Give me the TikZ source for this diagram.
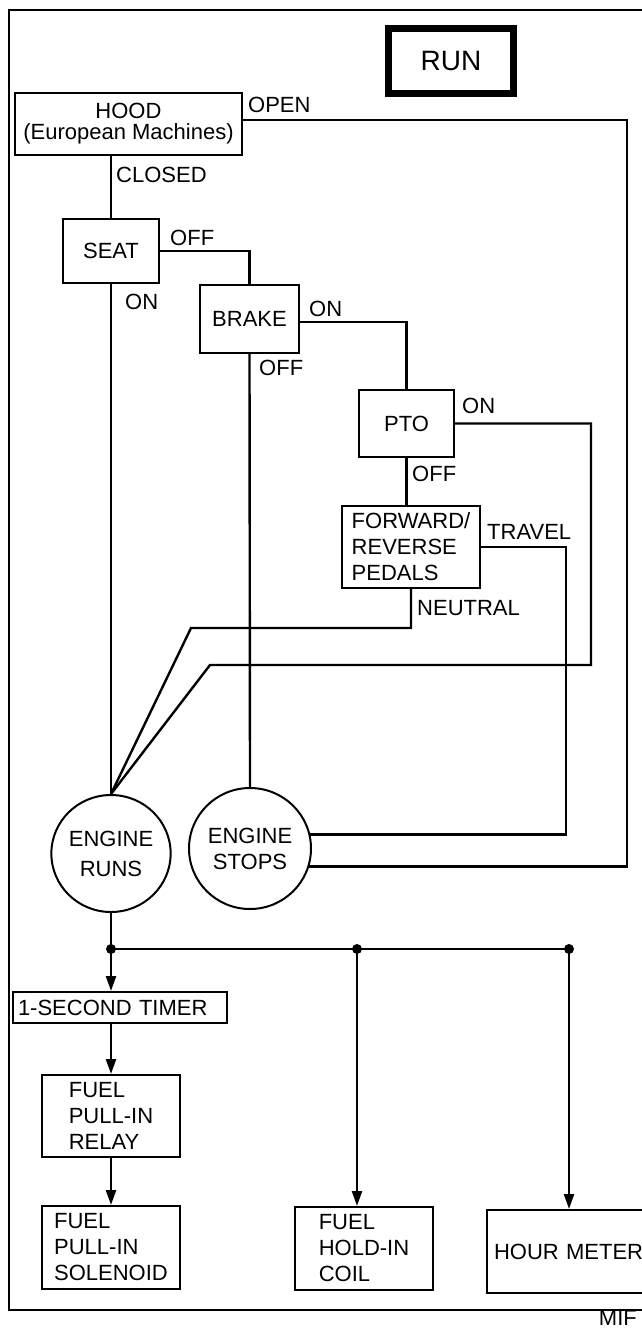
\documentclass[tikz,border=0pt]{standalone}
\usepackage{fontspec}
\setmainfont{Liberation Sans}
\usepackage{tikz}
\usetikzlibrary{positioning, arrows.meta, shapes.geometric}

\begin{document}
\begin{tikzpicture}[x=1pt, y=-1pt,
        every node/.style={font=\fontsize{22}{26}\selectfont},
        box/.style={draw, line width=2pt, inner sep=0pt, align=center},
        lbox/.style={box, align=left},
        engine/.style={draw, ellipse, line width=2pt, inner sep=0pt, align=center},
        lbl/.style={anchor=base west, inner sep=0pt},
        wire/.style={line width=2.4pt},
        feed/.style={wire, -{Triangle[length=15pt, width=10pt]}},
        dot/.style={circle, fill, inner sep=0pt, minimum size=10pt}
    ]
        \useasboundingbox (0,0) rectangle (642,1330);
        \draw[line width=1.5pt] (9,10) rectangle (690,1310);

        % switches
        \node[box, line width=7pt, minimum width=125pt, minimum height=65pt,
              font=\fontsize{28}{28}\selectfont] (run) at (451,61) {RUN};
        \node[box, minimum width=227pt, minimum height=62pt,
              font=\fontsize{22}{21}\selectfont] (hood) at (128.5,124) {HOOD\\(European Machines)};
        \node[box, minimum width=96pt, minimum height=64pt] (seat) at (111,251) {SEAT};
        \node[box, minimum width=99pt, minimum height=68pt] (brake) at (249.5,319) {BRAKE};
        \node[box, minimum width=95pt, minimum height=67pt] (pto) at (406.5,423.5) {PTO};
        \node[lbox, minimum width=138pt, minimum height=82pt] (fnr) at (411,547) {FORWARD/\\REVERSE\\PEDALS};

        % engine states
        \node[engine, minimum width=118pt, minimum height=117pt,
              font=\fontsize{22}{30}\selectfont] (runs) at (111,853.5) {ENGINE\\RUNS};
        \node[engine, minimum width=122pt, minimum height=121pt] (stops) at (250,848.5) {ENGINE\\STOPS};

        % outputs
        \node[lbox, minimum width=214pt, minimum height=31pt, inner xsep=5pt,
              text width=204pt] (timer) at (120,1007.5) {1-SECOND TIMER};
        \node[lbox, minimum width=138pt, minimum height=82pt] (relay) at (111,1116) {FUEL\\PULL-IN\\RELAY};
        \node[lbox, minimum width=138pt, minimum height=83pt] (solenoid) at (111,1247.5) {FUEL\\PULL-IN\\SOLENOID};
        \node[lbox, minimum width=138pt, minimum height=83pt] (holdin) at (364,1248.5) {FUEL\\HOLD-IN\\COIL};
        \node[lbox, anchor=north west, minimum width=200pt, minimum height=83pt, inner xsep=7pt,
              text width=186pt] (hour) at (486,1209) {HOUR METER};

        % labels
        \node[lbl] (lopen) at (248,112) {OPEN};
        \node[lbl] (lclosed) at (116,182) {CLOSED};
        \node[lbl] (lseatoff) at (170,245) {OFF};
        \node[lbl] (lseaton) at (125,309) {ON};
        \node[lbl] (lbrakeon) at (309,316) {ON};
        \node[lbl] (lbrakeoff) at (259,375) {OFF};
        \node[lbl] (lptoon) at (462,413) {ON};
        \node[lbl] (lptooff) at (412,481) {OFF};
        \node[lbl] (ltravel) at (487,539) {TRAVEL};
        \node[lbl] (lneutral) at (417,615) {NEUTRAL};
        \node[anchor=base east, inner sep=0pt] (mif) at (637,1325) {MIF};

        % bends
        \coordinate (openc) at (627,120);
        \coordinate (ptoc) at (591,665);
        \coordinate (ptod) at (210,665);
        \coordinate (travc) at (566,547);
        \coordinate (neuc) at (191,628);
        \coordinate (j1) at (111,949);
        \coordinate (j2) at (357,949);
        \coordinate (j3) at (569,949);

        \draw[wire] (hood.east |- openc) -- (openc) |- (stops.-17);
        \draw[wire] (seat.north |- hood.south) -- (seat.north);
        \draw[wire] (seat.east) -| (brake.north);
        \draw[wire] (seat.south) -- (runs.north);
        \draw[wire] ([yshift=-3pt]brake.east) -| (pto.north);
        \draw[wire] (brake.south) -- (stops.north);
        \draw[wire] (pto.east) -| (ptoc) -- (ptod) -- (runs.north);
        \draw[wire] (pto.south) -- (pto.south |- fnr.north);
        \draw[wire] (fnr.east) -- (travc) |- (stops.13);
        \draw[wire] (fnr.south) |- (neuc) -- (runs.north);

        % engine runs feeds
        \draw[wire] (runs.south) -- (j1) -- (j3);
        \draw[feed] (j1) -- (j1 |- timer.north);
        \draw[feed] (timer.south -| j1) -- (relay.north);
        \draw[feed] (relay.south) -- (solenoid.north);
        \draw[feed] (j2) -- (j2 |- holdin.north);
        \draw[feed] (j3) -- (j3 |- hour.north);
        \foreach \j in {j1,j2,j3}
            \node[dot] (d\j) at (\j) {};

    \end{tikzpicture}
\end{document}
